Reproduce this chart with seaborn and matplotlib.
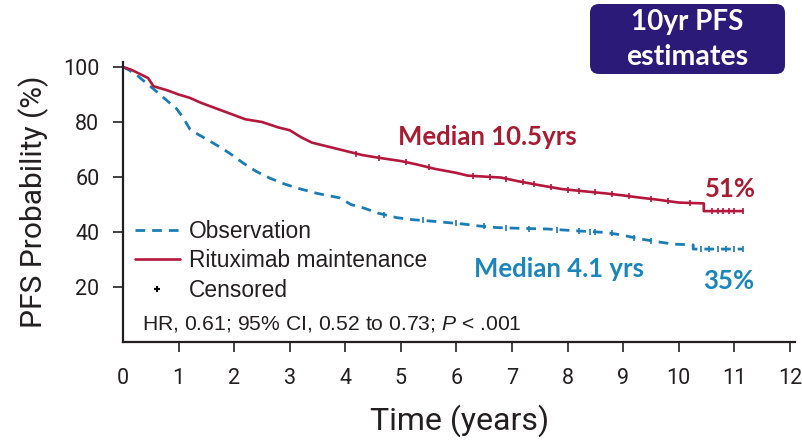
import numpy as np
import pandas as pd
import matplotlib
matplotlib.use("Agg")
import matplotlib.pyplot as plt
from matplotlib.lines import Line2D
from matplotlib.patches import FancyBboxPatch
from matplotlib.transforms import IdentityTransform
import seaborn as sns

# Kaplan-Meier estimates (time in years, PFS %); repeated times mark sharp drops
rit_time = [0, 0.15, 0.3, 0.45, 0.55, 0.8, 1.0, 1.2, 1.4, 1.6, 1.8, 2.0, 2.2, 2.5,
            2.8, 3.0, 3.2, 3.4, 3.7, 4.0, 4.3, 4.6, 5.0, 5.3, 5.6, 6.0, 6.2, 6.8,
            7.1, 7.5, 7.9, 8.3, 8.7, 9.0, 9.3, 9.6, 10.0, 10.45, 10.45, 11.15]
rit_surv = [100, 99, 97.5, 96, 93, 91.5, 90, 88.8, 87, 85.5, 84, 82.5, 81, 80,
            78, 77, 74.5, 72.5, 71, 69.5, 68, 67, 65.8, 64.5, 63, 61.5, 60.5, 59.8,
            58.5, 57, 55.6, 54.8, 54, 53.3, 52.5, 51.8, 50.7, 50.4, 47.6, 47.6]

obs_time = [0, 0.1, 0.25, 0.4, 0.55, 0.75, 0.97, 1.1, 1.2, 1.35, 1.5, 1.65, 1.8,
            2.0, 2.16, 2.4, 2.64, 2.9, 3.13, 3.5, 3.9, 4.1, 4.32, 4.6, 4.93, 5.2,
            5.52, 5.8, 6.12, 6.4, 6.73, 7.2, 7.63, 8.1, 8.7, 9.0, 9.3, 9.6, 9.9,
            10.26, 10.26, 11.15]
obs_surv = [100, 99, 97, 94.5, 92, 88.5, 84.7, 81, 77.5, 75.5, 73.8, 72, 70.2,
            67.5, 65.1, 62, 59.6, 57.5, 56, 54, 52.4, 50, 48.8, 46.8, 45.2, 44.5,
            44, 43.5, 42.9, 42.2, 41.6, 41.3, 41.1, 40.5, 39.8, 38.8, 37.5, 36.5,
            35.6, 35.3, 33.8, 33.8]

# Censoring times
rit_cens = [4.2, 4.6, 5.1, 5.5, 6.3, 6.6, 6.9, 7.2, 7.4, 7.7, 8.0, 8.2, 8.5, 8.8,
            9.1, 9.5, 9.8, 10.2, 10.6, 10.7, 10.8, 10.9, 11.0, 11.15]
obs_cens = [4.7, 5.4, 6.0, 6.5, 6.9, 7.3, 7.8, 8.2, 8.4, 8.5, 8.8, 9.2, 9.5,
            10.4, 10.55, 10.7, 10.85, 11.0, 11.15]

arm_names = ["Observation", "Rituximab maintenance", "Censored"]
x_ticks = list(range(0, 13))
y_ticks = [20, 40, 60, 80, 100]

RED = "#b3173c"
BLUE = "#1b7cb4"
RED_TXT = "#a81c33"
BLUE_TXT = "#1a86bb"
BOX = "#2c1a78"
INK = "#231f20"
DASH = (0, (3.5, 2.5))

sns.set_style("ticks")
axis_font = ["Roboto", "DejaVu Sans"]
bold_font = ["Lato", "DejaVu Sans"]
plt.rcParams["font.family"] = ["Liberation Sans", "DejaVu Sans"]
plt.rcParams["mathtext.fontset"] = "custom"
plt.rcParams["mathtext.rm"] = "Liberation Sans"
plt.rcParams["mathtext.it"] = "Liberation Sans:italic"

fig = plt.figure(figsize=(8.02, 4.40), dpi=100)
ax = fig.add_axes([123 / 802, 98 / 440, 672.5 / 802, 280.5 / 440])

df_r = pd.DataFrame({"t": rit_time, "s": rit_surv})
df_o = pd.DataFrame({"t": obs_time, "s": obs_surv})

sns.lineplot(data=df_o, x="t", y="s", ax=ax, color=BLUE, lw=2.0,
             estimator=None, sort=False, linestyle=DASH)
sns.lineplot(data=df_r, x="t", y="s", ax=ax, color=RED, lw=1.9,
             estimator=None, sort=False)


def surv_at(times, surv, t):
    i = np.searchsorted(times, t, side="right") - 1
    if i + 1 < len(times) and times[i + 1] > times[i]:
        f = (t - times[i]) / (times[i + 1] - times[i])
        return surv[i] + f * (surv[i + 1] - surv[i])
    return surv[i]


ax.plot(rit_cens, [surv_at(rit_time, rit_surv, t) for t in rit_cens], ls="none",
        marker="|", ms=5, mew=1.2, color=RED)
ax.plot(obs_cens, [surv_at(obs_time, obs_surv, t) for t in obs_cens], ls="none",
        marker="|", ms=5, mew=1.2, color=BLUE)

ax.set_xlim(0, 12.1)
ax.set_ylim(0, 102)
ax.set_xticks(x_ticks)
ax.set_yticks(y_ticks)
ax.tick_params(axis="both", direction="out", length=7, width=1.3, color="#333333")
ax.tick_params(axis="x", labelsize=15.5, pad=12)
ax.tick_params(axis="y", labelsize=15.5, pad=10)
for lab in ax.get_xticklabels() + ax.get_yticklabels():
    lab.set_family(axis_font)
    lab.set_color(INK)
ax.xaxis.get_major_ticks()[0].tick1line.set_visible(False)
sns.despine(ax=ax)
for sp in ("left", "bottom"):
    ax.spines[sp].set_linewidth(1.6)
    ax.spines[sp].set_color(INK)

ax.set_xlabel("Time (years)", fontsize=23, family=axis_font, color=INK, labelpad=11)
ax.set_ylabel("PFS Probability (%)", fontsize=21.5, family=axis_font, color=INK,
              labelpad=10)

handles = [Line2D([], [], color=BLUE, lw=2.0, linestyle=DASH),
           Line2D([], [], color=RED, lw=1.9),
           Line2D([], [], color="black", ls="none", marker="+", ms=5, mew=1.5)]
ax.legend(handles, arm_names, loc="center left", bbox_to_anchor=(0.0045, 0.289),
          frameon=False, fontsize=16.4, handlelength=1.95, handletextpad=0.42,
          labelspacing=0.3, borderaxespad=0, labelcolor=INK)

ax.text(0.028, 0.064, r"HR, 0.61; 95% CI, 0.52 to 0.73; $\it{P}$ < .001",
        transform=ax.transAxes, fontsize=15.2, color=INK, va="center")

ax.text(6.55, 74.5, "Median 10.5yrs", color=RED_TXT, fontsize=18.5, fontweight="bold",
        family=bold_font, ha="center", va="center")
ax.text(10.93, 55.5, "51%", color=RED_TXT, fontsize=18.5, fontweight="bold",
        family=bold_font, ha="center", va="center")
ax.text(7.85, 26.5, "Median 4.1 yrs", color=BLUE_TXT, fontsize=18.5, fontweight="bold",
        family=bold_font, ha="center", va="center")
ax.text(10.9, 22.3, "35%", color=BLUE_TXT, fontsize=18.5, fontweight="bold",
        family=bold_font, ha="center", va="center")

box = FancyBboxPatch((590, 440 - 74), 195, 70,
                     boxstyle="round,pad=0,rounding_size=9",
                     transform=IdentityTransform(), facecolor=BOX, edgecolor="none")
fig.add_artist(box)
fig.text(687.5 / 802, 1 - 22 / 440, "10yr PFS", color="white", fontsize=20,
         fontweight="bold", family=bold_font, ha="center", va="center")
fig.text(687.5 / 802, 1 - 57 / 440, "estimates", color="white", fontsize=20.5,
         fontweight="bold", family=bold_font, ha="center", va="center")

fig.savefig("out.png", dpi=100)
